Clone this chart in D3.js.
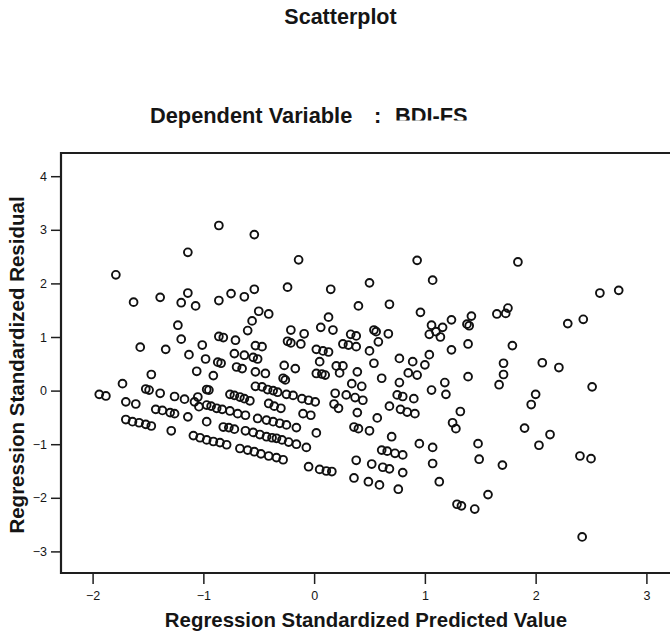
<!DOCTYPE html>
<html>
<head>
<meta charset="utf-8">
<script src="https://cdn.jsdelivr.net/npm/d3@7"></script>
<style>
  html, body { margin: 0; padding: 0; background: #fff; }
  svg { display: block; }
  text { font-family: "Liberation Sans", Arial, Helvetica, sans-serif; fill: #151515; }
</style>
</head>
<body>
<svg id="chart" width="670" height="635"></svg>
<script>
// Regression diagnostics: standardized predicted value vs standardized residual
const predicted = [
  -0.86,-0.54,-1.14,-1.79,-0.14,0.93,1.84,0.50,1.07,-1.63,-1.39,-1.14,-1.20,-1.07,-0.86,-0.75,-0.63,-0.54,-0.24,0.15,
  0.40,0.68,0.96,-0.50,-0.41,-0.56,0.13,-1.23,0.06,0.17,-0.60,-0.21,-0.09,2.58,2.75,1.65,1.73,1.75,2.29,2.43,
  1.06,1.16,1.24,1.04,1.14,1.10,1.38,1.42,1.40,-1.20,-1.57,-1.34,-1.13,-1.01,-0.86,-0.82,-0.71,-0.53,-0.47,-0.24,
  -0.21,-0.12,-0.72,-0.63,-0.55,-0.51,-0.98,-0.87,-0.84,-1.06,-0.91,-1.47,-1.73,-0.70,-0.65,-0.53,-0.44,-0.27,-0.17,-0.28,
  -0.26,0.02,0.08,0.13,0.05,0.20,0.02,0.07,0.10,0.26,0.31,0.38,0.33,0.38,0.54,0.56,0.67,0.58,0.50,0.77,
  0.89,1.04,1.00,1.24,1.39,1.79,0.54,0.39,0.61,0.34,0.43,0.77,0.85,0.93,1.06,1.18,1.19,1.39,0.26,0.23,
  1.71,1.71,1.67,2.06,2.21,2.51,2.00,1.96,1.90,2.13,2.03,2.40,2.50,1.48,1.49,1.70,1.57,1.45,2.42,1.29,
  1.33,1.25,1.28,1.32,0.95,1.07,1.07,1.13,0.75,0.80,0.90,0.68,0.78,0.84,0.91,0.57,0.36,0.40,0.50,0.70,
  0.61,0.66,0.73,0.80,0.38,0.52,0.62,0.68,0.80,0.36,0.49,0.59,0.76,0.19,0.29,0.37,0.44,0.22,0.39,0.18,
  -1.94,-1.88,-1.70,-1.61,-1.52,-1.49,-1.39,-1.26,-1.17,-1.05,-1.08,-0.97,-0.95,-1.43,-1.37,-1.30,-1.26,-1.14,-1.70,-1.64,
  -1.58,-1.52,-1.47,-1.29,-0.97,-1.09,-1.03,-0.97,-0.91,-0.85,-0.79,-0.67,-0.60,-0.54,-0.48,-0.41,-0.34,-0.28,
  -0.82,-0.77,-0.72,-0.62,-0.55,-0.49,-0.43,-0.38,-0.34,-0.29,-0.23,-0.16,-0.07,0.02,
  -0.05,0.05,0.11,0.16,
  -1.04,-0.97,-0.93,-0.88,-0.83,-0.76,-0.69,-0.62,-0.51,-0.43,-0.37,-0.31,-0.25,-0.16,-0.10,-0.03,
  -0.76,-0.72,-0.67,-0.63,-0.58,
  -0.53,-0.47,-0.42,-0.37,-0.33,-0.25,-0.19,-0.11,-0.05,0.01,
  -0.41,-0.36,-0.30
];
const residual = [
  3.08,2.91,2.58,2.16,2.44,2.43,2.40,2.01,2.06,1.65,1.74,1.82,1.64,1.58,1.68,1.81,1.75,1.89,1.93,1.89,
  1.58,1.61,1.46,1.48,1.43,1.30,1.37,1.22,1.18,1.13,1.12,1.13,1.06,1.82,1.87,1.43,1.44,1.54,1.25,1.33,
  1.22,1.18,1.32,1.05,1.00,1.10,1.24,1.39,1.21,0.96,0.81,0.77,0.67,0.85,1.01,0.99,0.94,0.84,0.82,0.92,
  0.89,0.87,0.69,0.66,0.62,0.59,0.59,0.53,0.51,0.36,0.28,0.30,0.13,0.44,0.41,0.35,0.32,0.47,0.41,0.23,
  0.20,0.77,0.74,0.72,0.54,0.46,0.32,0.31,0.29,0.87,0.85,0.82,1.05,1.02,1.13,1.10,1.06,0.91,0.74,0.60,
  0.54,0.67,0.48,0.76,0.87,0.84,0.51,0.35,0.23,0.13,0.08,0.15,0.33,0.29,0.01,0.15,-0.07,0.26,0.46,0.33,
  0.51,0.30,0.11,0.52,0.43,0.07,-0.07,-0.26,-0.70,-0.82,-1.02,-1.22,-1.27,-0.99,-1.28,-1.39,-1.94,-2.21,-2.73,-2.12,
  -2.15,-0.60,-0.71,-0.39,-0.99,-1.06,-1.36,-1.70,-0.08,-0.11,-0.15,-0.29,-0.35,-0.40,-0.43,-0.51,-0.68,-0.71,-0.75,-0.86,
  -1.11,-1.13,-1.17,-1.20,-1.30,-1.37,-1.43,-1.46,-1.53,-1.63,-1.70,-1.76,-1.84,-0.05,-0.08,-0.13,-0.18,-0.33,-0.41,-0.25,
  -0.07,-0.10,-0.21,-0.25,0.03,0.01,-0.05,-0.11,-0.16,-0.12,-0.21,0.02,0.01,-0.35,-0.37,-0.41,-0.43,-0.49,-0.54,-0.58,
  -0.60,-0.63,-0.66,-0.75,-0.58,-0.84,-0.88,-0.92,-0.95,-0.97,-1.01,-1.08,-1.11,-1.14,-1.18,-1.22,-1.25,-1.29,
  -0.68,-0.69,-0.72,-0.75,-0.78,-0.82,-0.86,-0.88,-0.89,-0.92,-0.96,-1.00,-1.06,-0.79,
  -1.42,-1.47,-1.50,-1.51,
  -0.30,-0.27,-0.29,-0.33,-0.35,-0.38,-0.43,-0.46,-0.52,-0.55,-0.58,-0.61,-0.64,-0.69,-0.43,-0.46,
  -0.07,-0.09,-0.12,-0.15,-0.19,
  0.08,0.07,0.02,0.00,-0.03,-0.07,-0.09,-0.15,-0.18,-0.21,
  -0.24,-0.29,-0.33
];
const xTickValues = [-2, -1, 0, 1, 2, 3];
const yTickValues = [-3, -2, -1, 0, 1, 2, 3, 4];

const chartTitle = "Scatterplot";
const subtitleLead = "Dependent Variable";
const subtitleSep = ":";
const subtitleVar = "BDI-FS";
const xTitle = "Regression Standardized Predicted Value";
const yTitle = "Regression Standardized Residual";

const svg = d3.select("#chart");

// Plot frame (the right edge runs past the page)
const frame = { left: 61, top: 153, bottom: 573, right: 720 };

const x = d3.scaleLinear().domain([-2, 3]).range([92.6, 646.4]);
const y = d3.scaleLinear().domain([-3, 4]).range([551.4, 176.2]);

// Titles
svg.append("text")
  .attr("x", 340.5).attr("y", 24)
  .attr("text-anchor", "middle")
  .style("font-weight", "bold").style("font-size", "21.5px")
  .text(chartTitle);

svg.append("text")
  .attr("x", 150).attr("y", 123)
  .style("font-weight", "bold").style("font-size", "21.8px")
  .text(subtitleLead);
svg.append("text")
  .attr("x", 374).attr("y", 123)
  .style("font-weight", "bold").style("font-size", "21.8px")
  .text(subtitleSep);

svg.append("clipPath").attr("id", "varClip")
  .append("rect").attr("x", 380).attr("y", 90).attr("width", 120).attr("height", 30.5);
svg.append("text")
  .attr("x", 395).attr("y", 123)
  .attr("clip-path", "url(#varClip)")
  .style("font-weight", "bold").style("font-size", "21.8px")
  .text(subtitleVar);

// Axes
const axisColor = "#1e1e1e";

const yAxis = d3.axisLeft(y).tickValues(yTickValues).tickSize(10).tickPadding(4).tickFormat(d3.format("d"));
const gy = svg.append("g").attr("transform", `translate(${frame.left},0)`).call(yAxis);
gy.select(".domain").remove();
gy.selectAll(".tick line").attr("stroke", axisColor).attr("stroke-width", 1.5);
gy.selectAll(".tick text")
  .style("font-size", "12.5px").style("font-family", "'Liberation Sans', Arial, sans-serif")
  .attr("fill", "#1a1a1a");

const xAxis = d3.axisBottom(x).tickValues(xTickValues).tickSize(11).tickPadding(7).tickFormat(d3.format("d"));
const gx = svg.append("g").attr("transform", `translate(0,${frame.bottom})`).call(xAxis);
gx.select(".domain").remove();
gx.selectAll(".tick line").attr("stroke", axisColor).attr("stroke-width", 1.5);
gx.selectAll(".tick text")
  .style("font-size", "12.5px").style("font-family", "'Liberation Sans', Arial, sans-serif")
  .attr("fill", "#1a1a1a");

// Frame lines: top, left, bottom
svg.append("path")
  .attr("d", `M${frame.right},${frame.top}H${frame.left}V${frame.bottom}H${frame.right}`)
  .attr("fill", "none").attr("stroke", axisColor).attr("stroke-width", 2.2);

// Axis titles
svg.append("text")
  .attr("x", 366).attr("y", 627)
  .attr("text-anchor", "middle")
  .style("font-weight", "bold").style("font-size", "20.4px")
  .text(xTitle);

svg.append("text")
  .attr("transform", "translate(24,365) rotate(-90)")
  .attr("text-anchor", "middle")
  .style("font-weight", "bold").style("font-size", "20.5px")
  .text(yTitle);

// Residual points
const points = predicted.map((p, i) => ({ p, r: residual[i] }));
svg.append("g")
  .selectAll("circle")
  .data(points)
  .join("circle")
  .attr("cx", d => x(d.p))
  .attr("cy", d => y(d.r))
  .attr("r", 3.9)
  .attr("fill", "none")
  .attr("stroke", "#111")
  .attr("stroke-width", 1.9);
</script>
</body>
</html>
